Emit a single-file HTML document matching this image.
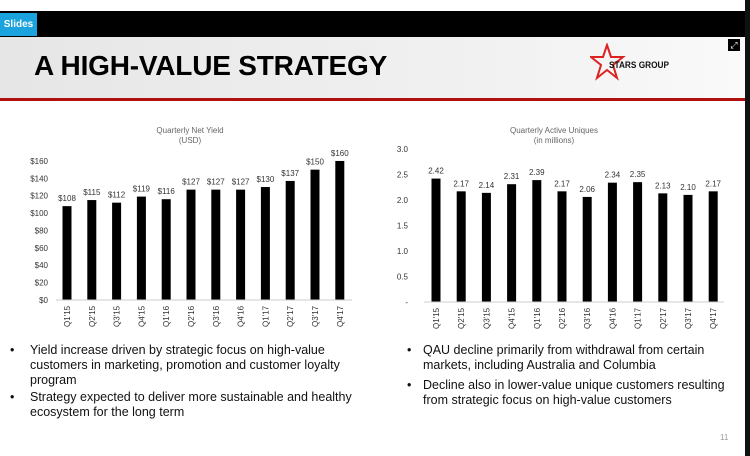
<!DOCTYPE html><html><head><style>
body{margin:0;width:750px;height:456px;overflow:hidden;background:#fff;font-family:"Liberation Sans",Arial,sans-serif;position:relative}
.a{position:absolute}
.b{font-size:12.5px;color:#111;line-height:15px}
</style></head><body>
<div class="a" style="left:0;top:11px;width:750px;height:26px;background:#000"></div>
<div class="a" style="left:0;top:13px;width:37px;height:23px;background:#1aa3dd;color:#fff;font-size:10px;font-weight:bold;line-height:23px;text-align:center">Slides</div>
<div class="a" style="left:0;top:37px;width:745px;height:61px;background:linear-gradient(90deg,#e6e6e6,#f2f2f2 70%,#fafafa)"></div>
<div class="a" style="left:0;top:98px;width:745px;height:3px;background:#b01010"></div>
<div class="a" style="left:745px;top:0;width:5px;height:456px;background:#111"></div>
<div class="a" style="left:728px;top:39px;width:12px;height:12px;background:#000;color:#fff;font-size:9px;line-height:12px;text-align:center">⤢</div>
<div class="a" style="left:34px;top:50px;font-size:28px;font-weight:bold;color:#000;letter-spacing:-0.2px">A HIGH-VALUE STRATEGY</div>
<svg class="a" style="left:590px;top:43px" width="100" height="40"><polygon points="17,2 21,14 33,14 23,22 27,35 17,27 7,35 11,22 1,14 13,14" fill="none" stroke="#d22" stroke-width="2"/><text x="19" y="25" font-size="9" font-weight="bold" font-family="Liberation Sans" fill="#111" textLength="60" lengthAdjust="spacingAndGlyphs">STARS GROUP</text></svg>
<svg class="a" style="left:0;top:0" width="745" height="456" font-family="Liberation Sans" font-size="8" fill="#333">
<text x="190" y="133" text-anchor="middle" fill="#666">Quarterly Net Yield</text>
<text x="190" y="143" text-anchor="middle" fill="#666">(USD)</text>
<text x="554" y="133" text-anchor="middle" fill="#666">Quarterly Active Uniques</text>
<text x="554" y="143" text-anchor="middle" fill="#666">(in millions)</text>
<g id="L"></g><g id="R"></g>
<line x1="56" y1="300" x2="352" y2="300" stroke="#ccc"/>
<line x1="424" y1="302" x2="724" y2="302" stroke="#ccc"/>
</svg>
<div class="a b" style="left:10px;top:343px">•</div>
<div class="a b" style="left:30px;top:343px;width:320px">Yield increase driven by strategic focus on high-value customers in marketing, promotion and customer loyalty program</div>
<div class="a b" style="left:10px;top:390px">•</div>
<div class="a b" style="left:30px;top:390px;width:330px">Strategy expected to deliver more sustainable and healthy ecosystem for the long term</div>
<div class="a b" style="left:407px;top:343px">•</div>
<div class="a b" style="left:423px;top:343px;width:310px">QAU decline primarily from withdrawal from certain markets, including Australia and Columbia</div>
<div class="a b" style="left:407px;top:378px">•</div>
<div class="a b" style="left:423px;top:378px;width:310px">Decline also in lower-value unique customers resulting from strategic focus on high-value customers</div>
<div class="a" style="left:720px;top:433px;font-size:8px;color:#999">11</div>
<script>
var q=["Q1'15","Q2'15","Q3'15","Q4'15","Q1'16","Q2'16","Q3'16","Q4'16","Q1'17","Q2'17","Q3'17","Q4'17"];
var lv=[108,115,112,119,116,127,127,127,130,137,150,160];
var rv=[2.42,2.17,2.14,2.31,2.39,2.17,2.06,2.34,2.35,2.13,2.10,2.17];
var s="";
for(var i=0;i<=8;i++){var y=300-i*20*0.869;s+='<text x="48" y="'+(y+3)+'" text-anchor="end">$'+(i*20)+'</text>';}
lv.forEach(function(v,i){var x=67+i*24.8,h=v*0.869;s+='<rect x="'+(x-4.5)+'" y="'+(300-h)+'" width="9" height="'+h+'" fill="#000"/>';
s+='<text x="'+x+'" y="'+(300-h-5)+'" text-anchor="middle">$'+v+'</text>';
s+='<text transform="translate('+(x+3)+',327) rotate(-90)">'+q[i]+'</text>';});
document.getElementById("L").innerHTML=s;s="";
["-","0.5","1.0","1.5","2.0","2.5","3.0"].forEach(function(t,i){var y=302-i*25.5;s+='<text x="408" y="'+(y+3)+'" text-anchor="end">'+t+'</text>';});
rv.forEach(function(v,i){var x=436+i*25.2,h=v*51;s+='<rect x="'+(x-4.5)+'" y="'+(302-h)+'" width="9" height="'+h+'" fill="#000"/>';
s+='<text x="'+x+'" y="'+(302-h-5)+'" text-anchor="middle">'+v.toFixed(2)+'</text>';
s+='<text transform="translate('+(x+3)+',329) rotate(-90)">'+q[i]+'</text>';});
document.getElementById("R").innerHTML=s;
</script>
</body></html>
